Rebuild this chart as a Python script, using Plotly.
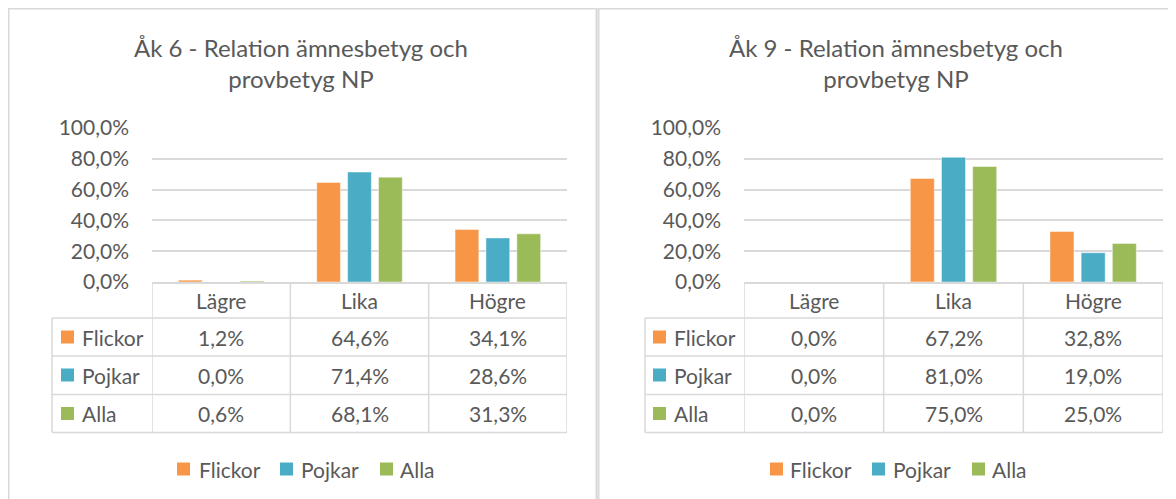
import plotly.graph_objects as go

# ---------------- data ----------------
categories = ["Lägre", "Lika", "Högre"]
series_names = ["Flickor", "Pojkar", "Alla"]
ak6_flickor = [1.2, 64.6, 34.1]
ak6_pojkar = [0.0, 71.4, 28.6]
ak6_alla = [0.6, 68.1, 31.3]
ak9_flickor = [0.0, 67.2, 32.8]
ak9_pojkar = [0.0, 81.0, 19.0]
ak9_alla = [0.0, 75.0, 25.0]
y_tick_values = [0, 20, 40, 60, 80, 100]
title_ak6 = "Åk 6 - Relation ämnesbetyg och<br>provbetyg NP"
title_ak9 = "Åk 9 - Relation ämnesbetyg och<br>provbetyg NP"

# ---------------- style ----------------
OFF = 8                      # page body margin
W, H = 1176 - OFF, 499 - OFF
FONT = "Lato"
TXT = "#595959"
GRID = "#D9D9D9"
colors = ["#F79646", "#4BACC6", "#9BBB59"]


def px(x):
    return (x - OFF) / W


def py(y):
    return 1 - (y - OFF) / H


def fmt(v):
    return f"{v:.1f}".replace(".", ",") + "%"


y_tick_text = [fmt(v) for v in y_tick_values]

panels = [
    dict(title=title_ak6, data=[ak6_flickor, ak6_pojkar, ak6_alla],
         xa="x", ya="y", x0=152, x1=567, tbl_left=52, title_x=301,
         sq_x=61, lbl_x=80, leg_sq=[177, 280, 380], leg_txt=[197, 299, 398]),
    dict(title=title_ak9, data=[ak9_flickor, ak9_pojkar, ak9_alla],
         xa="x2", ya="y2", x0=744, x1=1163, tbl_left=645, title_x=896,
         sq_x=653, lbl_x=672, leg_sq=[770, 872, 972], leg_txt=[788, 891, 990]),
]

Y_TOP, Y_ZERO = 128, 282
row_lines = [318, 356, 394.5, 432.5]
row_centers = [337, 375, 413.5]
HEAD_Y = 300
LEG_Y = 469
SQ = 13

fig = go.Figure()
shapes = []
annotations = []

for p in panels:
    for name, vals, col in zip(series_names, p["data"], colors):
        fig.add_trace(go.Bar(
            x=categories, y=vals, name=name,
            marker=dict(color=col, line=dict(width=1, color="rgba(255,255,255,0.45)")),
            xaxis=p["xa"], yaxis=p["ya"], showlegend=False,
        ))
    # title
    annotations.append(dict(text=p["title"], x=px(p["title_x"]), y=py(63.5), xref="paper", yref="paper",
                            showarrow=False, xanchor="center", yanchor="middle",
                            font=dict(family=FONT, size=24, color=TXT)))
    xr = p["xa"]
    # table horizontal lines
    for yl in row_lines:
        shapes.append(dict(type="line", xref="paper", yref="paper", x0=px(p["tbl_left"]), x1=px(p["x1"]),
                           y0=py(yl), y1=py(yl), line=dict(color=GRID, width=1.5)))
    # table verticals along category boundaries
    for b in [-0.5, 0.5, 1.5, 2.5]:
        shapes.append(dict(type="line", xref=xr, yref="paper", x0=b, x1=b,
                           y0=py(Y_ZERO), y1=py(row_lines[-1]), line=dict(color=GRID, width=1.5)))
    shapes.append(dict(type="line", xref="paper", yref="paper", x0=px(p["tbl_left"]), x1=px(p["tbl_left"]),
                       y0=py(row_lines[0]), y1=py(row_lines[-1]), line=dict(color=GRID, width=1.5)))
    # header row (category names)
    for j, c in enumerate(categories):
        annotations.append(dict(text=c, x=j, y=py(HEAD_Y), xref=xr, yref="paper",
                                showarrow=False, xanchor="center", yanchor="middle",
                                font=dict(family=FONT, size=21, color=TXT)))
    # table rows
    for i, (name, vals, col) in enumerate(zip(series_names, p["data"], colors)):
        yc = row_centers[i]
        shapes.append(dict(type="rect", xref="paper", yref="paper", x0=px(p["sq_x"]), x1=px(p["sq_x"] + SQ),
                           y0=py(yc + SQ / 2), y1=py(yc - SQ / 2), fillcolor=col, line=dict(width=0)))
        annotations.append(dict(text=name, x=px(p["lbl_x"]), y=py(yc), xref="paper", yref="paper",
                                showarrow=False, xanchor="left", yanchor="middle",
                                font=dict(family=FONT, size=21, color=TXT)))
        for j, v in enumerate(vals):
            annotations.append(dict(text=fmt(v), x=j, y=py(yc), xref=xr, yref="paper",
                                    showarrow=False, xanchor="center", yanchor="middle",
                                    font=dict(family=FONT, size=21, color=TXT)))
    # legend
    for name, col, sx, tx in zip(series_names, colors, p["leg_sq"], p["leg_txt"]):
        shapes.append(dict(type="rect", xref="paper", yref="paper", x0=px(sx), x1=px(sx + SQ),
                           y0=py(LEG_Y + SQ / 2), y1=py(LEG_Y - SQ / 2), fillcolor=col, line=dict(width=0)))
        annotations.append(dict(text=name, x=px(tx), y=py(LEG_Y), xref="paper", yref="paper",
                                showarrow=False, xanchor="left", yanchor="middle",
                                font=dict(family=FONT, size=21, color=TXT)))

# panel frames
shapes.append(dict(type="rect", xref="paper", yref="paper", x0=px(8.5), x1=px(596.5), y0=py(8.5), y1=py(520),
                   line=dict(color=GRID, width=2), layer="below"))
shapes.append(dict(type="rect", xref="paper", yref="paper", x0=px(598.5), x1=px(1190), y0=py(8.5), y1=py(520),
                   line=dict(color=GRID, width=2), layer="below"))

axis_common_x = dict(type="category", range=[-0.5, 2.5], showline=True, linecolor=GRID, linewidth=1.5,
                     showgrid=False, ticks="", showticklabels=False, automargin=False, fixedrange=True)
axis_common_y = dict(range=[0, 100], tickvals=y_tick_values, ticktext=y_tick_text,
                     showgrid=True, gridcolor=GRID, gridwidth=1.5, zeroline=False, showline=False,
                     ticks="", ticklabelstandoff=22, automargin=False,
                     tickfont=dict(family=FONT, size=21, color=TXT), fixedrange=True)

fig.update_layout(
    width=W, height=H,
    margin=dict(l=0, r=0, t=0, b=0, pad=0, autoexpand=False),
    paper_bgcolor="white", plot_bgcolor="white",
    separators=",.",
    barmode="group", bargap=0.33, bargroupgap=0.23,
    showlegend=False,
    xaxis=dict(domain=[px(152), px(567)], anchor="y", **axis_common_x),
    yaxis=dict(domain=[py(Y_ZERO), py(Y_TOP)], anchor="x", **axis_common_y),
    xaxis2=dict(domain=[px(744), px(1163)], anchor="y2", **axis_common_x),
    yaxis2=dict(domain=[py(Y_ZERO), py(Y_TOP)], anchor="x2", **axis_common_y),
    shapes=shapes,
    annotations=annotations,
    font=dict(family=FONT, color=TXT),
)

fig.write_html("out.html")
